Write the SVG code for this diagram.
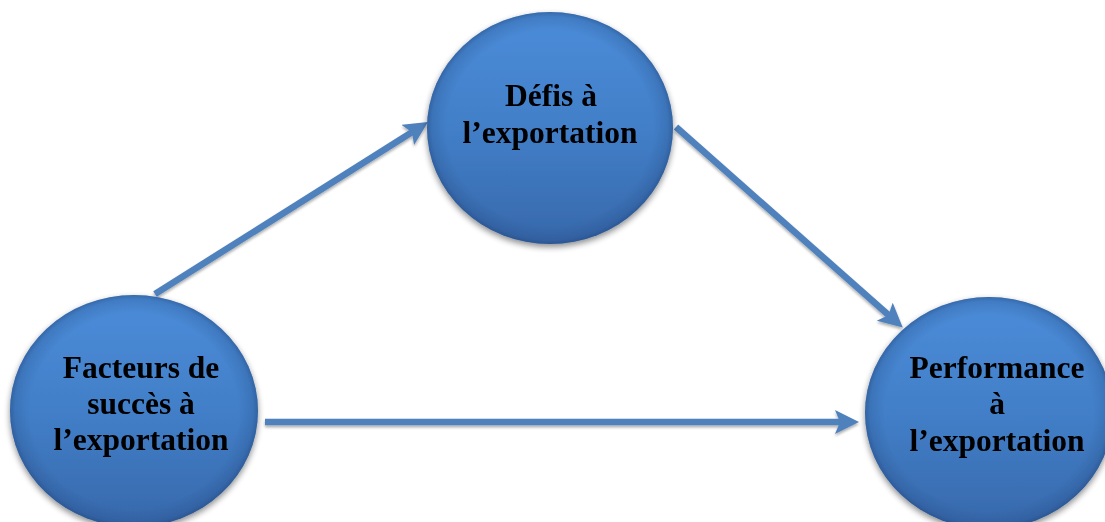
<svg xmlns="http://www.w3.org/2000/svg" width="1105" height="522" viewBox="0 0 1105 522">
  <defs>
    <!-- body colour of the spheres: lighter at top, deeper at bottom -->
    <linearGradient id="ballFill" x1="0" y1="0" x2="0" y2="1">
      <stop offset="0" stop-color="#4b8cd9"/>
      <stop offset="0.5" stop-color="#427fc8"/>
      <stop offset="1" stop-color="#3768ab"/>
    </linearGradient>
    <!-- darkened rim for the bevelled look -->
    <radialGradient id="ballRim" cx="0.5" cy="0.5" r="0.5">
      <stop offset="0.84" stop-color="#1d3f73" stop-opacity="0"/>
      <stop offset="0.96" stop-color="#1d3f73" stop-opacity="0.2"/>
      <stop offset="1" stop-color="#1d3f73" stop-opacity="0.45"/>
    </radialGradient>
    <filter id="ballShadow" x="-20%" y="-20%" width="140%" height="150%">
      <feGaussianBlur in="SourceAlpha" stdDeviation="3"/>
      <feOffset dx="0" dy="3" result="b"/>
      <feComponentTransfer><feFuncA type="linear" slope="0.45"/></feComponentTransfer>
      <feMerge><feMergeNode/><feMergeNode in="SourceGraphic"/></feMerge>
    </filter>
    <filter id="lineShadow" x="-10%" y="-30%" width="120%" height="160%">
      <feGaussianBlur in="SourceAlpha" stdDeviation="1.5"/>
      <feOffset dx="0" dy="2" result="b"/>
      <feComponentTransfer><feFuncA type="linear" slope="0.35"/></feComponentTransfer>
      <feMerge><feMergeNode/><feMergeNode in="SourceGraphic"/></feMerge>
    </filter>
    <marker id="head" markerUnits="userSpaceOnUse" markerWidth="26" markerHeight="26" refX="11" refY="12" orient="auto">
      <path d="M0,0 L24,12 L0,24 L5,12 Z" fill="#4f81bd"/>
    </marker>
  </defs>
  <style>
    .ball { fill: url(#ballFill); }
    .rim { fill: url(#ballRim); }
    .label { font-family: "Liberation Serif", "Times New Roman", serif; font-weight: bold; font-size: 31.5px; fill: #000; text-anchor: middle; }
    .conn { stroke: #4f81bd; stroke-width: 6.5; fill: none; marker-end: url(#head); }
  </style>

  <g id="connectors" filter="url(#lineShadow)">
    <line class="conn" x1="155" y1="294" x2="417" y2="129"/>
    <line class="conn" x1="676" y1="127" x2="893" y2="319"/>
    <line class="conn" x1="265" y1="422" x2="846" y2="422"/>
  </g>

  <g id="node-defis" filter="url(#ballShadow)">
    <ellipse class="ball" cx="550" cy="128" rx="123" ry="116"/>
    <ellipse class="rim" cx="550" cy="128" rx="123" ry="116"/>
    <text class="label" x="551" y="106">Défis à</text>
    <text class="label" x="550" y="143">l’exportation</text>
  </g>

  <g id="node-facteurs" filter="url(#ballShadow)">
    <ellipse class="ball" cx="134" cy="411" rx="124" ry="116"/>
    <ellipse class="rim" cx="134" cy="411" rx="124" ry="116"/>
    <text class="label" x="141" y="378">Facteurs de</text>
    <text class="label" x="141" y="414">succès à</text>
    <text class="label" x="141" y="450">l’exportation</text>
  </g>

  <g id="node-performance" filter="url(#ballShadow)">
    <ellipse class="ball" cx="989" cy="413" rx="124" ry="116"/>
    <ellipse class="rim" cx="989" cy="413" rx="124" ry="116"/>
    <text class="label" x="997" y="378">Performance</text>
    <text class="label" x="997" y="414">à</text>
    <text class="label" x="997" y="451">l’exportation</text>
  </g>
</svg>
